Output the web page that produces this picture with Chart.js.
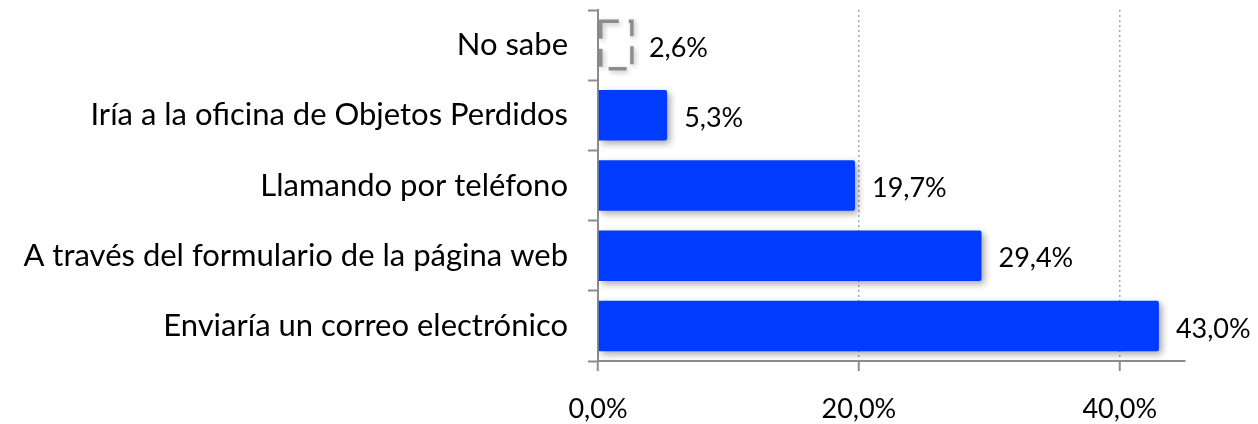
<!DOCTYPE html>
<html>
<head>
<meta charset="utf-8">
<script src="https://cdn.jsdelivr.net/npm/chart.js@4"></script>
<style>
  html, body { margin: 0; padding: 0; background: #fff; }
  #wrap { width: 1258px; height: 424px; position: relative; }
</style>
</head>
<body>
<div id="wrap"><canvas id="c" width="1258" height="424"></canvas></div>
<script>
const categories = [
  "No sabe",
  "Iría a la oficina de Objetos Perdidos",
  "Llamando por teléfono",
  "A través del formulario de la página web",
  "Enviaría un correo electrónico"
];
const values = [2.6, 5.3, 19.7, 29.4, 43.0];
const tickValues = [0, 20, 40];
const dashedIndex = 0;

const FONT = "Lato, 'Liberation Sans', sans-serif";
const fmt = v => v.toFixed(1).replace('.', ',') + '%';

const shadowPlugin = {
  id: 'shadow',
  beforeDatasetsDraw(chart) {
    const ctx = chart.ctx;
    ctx.save();
    ctx.shadowColor = 'rgba(0,0,0,0.35)';
    ctx.shadowBlur = 7;
    ctx.shadowOffsetX = 3;
    ctx.shadowOffsetY = 3;
  },
  afterDatasetsDraw(chart) {
    const ctx = chart.ctx;
    ctx.restore();
    const meta = chart.getDatasetMeta(0);
    const el = meta.data[dashedIndex];
    if (el) {
      const p = el.getProps(['x', 'y', 'base', 'height'], true);
      ctx.save();
      ctx.shadowColor = 'rgba(0,0,0,0.25)';
      ctx.shadowBlur = 5;
      ctx.shadowOffsetX = 2;
      ctx.shadowOffsetY = 2;
      ctx.strokeStyle = '#8c8c8c';
      ctx.lineWidth = 3.5;
      ctx.setLineDash([18, 10]);
      ctx.strokeRect(p.base + 2, p.y - p.height / 2 + 1.5, p.x - p.base - 2, p.height - 3);
      ctx.restore();
    }
    ctx.save();
    ctx.font = "27px " + FONT;
    ctx.fillStyle = '#000';
    ctx.textBaseline = 'middle';
    ctx.textAlign = 'left';
    meta.data.forEach((b, i) => {
      const p = b.getProps(['x', 'y'], true);
      ctx.fillText(fmt(values[i]), p.x + 17, p.y + 3);
    });
    ctx.restore();
  }
};

new Chart(document.getElementById('c'), {
  type: 'bar',
  data: {
    labels: categories,
    datasets: [{
      data: values,
      backgroundColor: values.map((v, i) => i === dashedIndex ? 'rgba(255,255,255,0)' : '#003cff'),
      borderWidth: 0,
      borderRadius: 2,
      barPercentage: 0.72,
      categoryPercentage: 1.0
    }]
  },
  options: {
    indexAxis: 'y',
    responsive: false,
    animation: false,
    devicePixelRatio: 1,
    layout: { padding: { top: 10, right: 73, left: 0, bottom: 0 } },
    plugins: { legend: { display: false }, tooltip: { enabled: false } },
    scales: {
      x: {
        min: 0,
        max: 45,
        ticks: {
          stepSize: 20,
          color: '#000',
          font: { family: FONT, size: 27 },
          padding: 22,
          callback: v => fmt(v)
        },
        afterBuildTicks(scale) {
          scale.ticks = tickValues.map(v => ({ value: v }));
        },
        afterFit(scale) {
          scale.height = 63;
          scale.paddingLeft = 0; scale.paddingRight = 0;
        },
        grid: {
          color: '#a8a8a8',
          lineWidth: 1.5,
          tickColor: '#8c8c8c',
          tickBorderDash: [],
          tickLength: 10,
          tickWidth: 2
        },
        border: { color: '#8c8c8c', width: 2, dash: [2, 3] }
      },
      y: {
        ticks: {
          color: '#000',
          font: { family: FONT, size: 31 },
          padding: 20
        },
        afterFit(scale) {
          scale.width = 598;
          scale.paddingTop = 0; scale.paddingBottom = 0;
        },
        grid: {
          offset: true,
          drawOnChartArea: false,
          drawTicks: true,
          tickLength: 10,
          tickColor: '#8c8c8c',
          tickWidth: 2
        },
        border: { color: '#8c8c8c', width: 2 }
      }
    }
  },
  plugins: [shadowPlugin]
});
</script>
</body>
</html>
